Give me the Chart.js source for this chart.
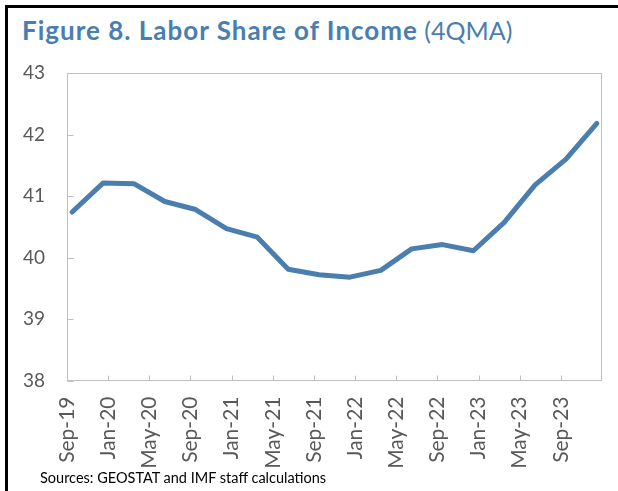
<!DOCTYPE html>
<html>
<head>
<meta charset="utf-8">
<script src="https://cdn.jsdelivr.net/npm/chart.js@4"></script>
<style>
  html, body { margin: 0; padding: 0; background: #fff; }
  body { width: 618px; height: 491px; position: relative; overflow: hidden; font-family: Lato, sans-serif; }
  #frame { position: absolute; left: 5px; top: 5px; right: -10px; bottom: -10px; border-left: 3px solid #000; border-top: 3px solid #000; }
  #title { position: absolute; left: 22px; top: 18px; font-size: 25px; line-height: 25px; color: #4a7eae; white-space: nowrap; }
  #title b { font-weight: 700; font-size: 26px; letter-spacing: 1px; }
  #source { position: absolute; left: 40px; top: 470px; font-size: 14.5px; line-height: 15px; color: #000; white-space: nowrap; }
  canvas { position: absolute; left: 0; top: 0; }
</style>
</head>
<body>
<div id="frame"></div>
<div id="title"><b>Figure 8. Labor Share of Income</b> (4QMA)</div>
<canvas id="chart" width="618" height="491"></canvas>
<div id="source">Sources: GEOSTAT and IMF staff calculations</div>
<script>
// Axis labels, every 4 months starting Sep-19
const tickLabels = ["Sep-19", "Jan-20", "May-20", "Sep-20", "Jan-21", "May-21", "Sep-21",
  "Jan-22", "May-22", "Sep-22", "Jan-23", "May-23", "Sep-23"];

// Quarterly observations, Sep-19 .. Dec-23
const quarters = ["Sep-19", "Dec-19", "Mar-20", "Jun-20", "Sep-20", "Dec-20", "Mar-21", "Jun-21", "Sep-21",
  "Dec-21", "Mar-22", "Jun-22", "Sep-22", "Dec-22", "Mar-23", "Jun-23", "Sep-23", "Dec-23"];
const laborShare = [40.74, 41.21, 41.20, 40.91, 40.78, 40.47, 40.33, 39.81, 39.72,
  39.68, 39.79, 40.14, 40.21, 40.11, 40.57, 41.18, 41.60, 42.18];

// months since Sep-19, mid-month
const points = quarters.map((q, i) => ({ x: i * 3 + 0.5, y: laborShare[i] }));

const GREY = "#bfbfbf";
const LABEL = "#595959";

// plot box + inside tick marks
const boxTicks = {
  id: "boxTicks",
  beforeDatasetsDraw(chart) {
    const { ctx, chartArea: a, scales: { x, y } } = chart;
    const l = Math.round(a.left) + 0.5, r = Math.round(a.right) - 0.5;
    const t = Math.round(a.top) + 0.5, b = Math.round(a.bottom) - 0.5;
    ctx.save();
    ctx.strokeStyle = GREY;
    ctx.lineWidth = 1;
    ctx.strokeRect(l, t, r - l, b - t);
    ctx.beginPath();
    x.ticks.forEach(tk => {
      if (tk.label === "") return;
      const px = Math.round(x.getPixelForValue(tk.value)) + 0.5;
      ctx.moveTo(px, b);
      ctx.lineTo(px, b - 5);
    });
    y.ticks.forEach(tk => {
      const py = Math.round(y.getPixelForValue(tk.value)) + 0.5;
      ctx.moveTo(l, py);
      ctx.lineTo(l + 6, py);
    });
    ctx.stroke();
    ctx.restore();
  }
};

new Chart(document.getElementById("chart"), {
  type: "line",
  data: {
    datasets: [{
      label: "Labor share of income",
      data: points,
      borderColor: "#4a7eae",
      borderWidth: 5,
      borderCapStyle: "round",
      borderJoinStyle: "round",
      pointRadius: 0,
      tension: 0
    }]
  },
  options: {
    responsive: false,
    animation: false,
    devicePixelRatio: 1,
    layout: { padding: { left: 0, right: 16, top: 73, bottom: 0 } },
    plugins: { legend: { display: false }, tooltip: { enabled: false } },
    scales: {
      x: {
        type: "linear",
        min: 0,
        max: 52,
        grid: { display: false, drawTicks: false },
        border: { display: false },
        afterFit: s => { s.height = 110.5; s.paddingLeft = 0; s.paddingRight = 0; },
        ticks: {
          stepSize: 4,
          autoSkip: false,
          maxRotation: 90,
          minRotation: 90,
          padding: 16,
          color: LABEL,
          font: { family: "Lato", size: 21 },
          callback: v => tickLabels[v / 4] ?? ""
        }
      },
      y: {
        min: 38,
        max: 43,
        grid: { display: false, drawTicks: false },
        border: { display: false },
        afterFit: s => { s.width = 67; s.paddingTop = 0; s.paddingBottom = 0; },
        ticks: {
          stepSize: 1,
          padding: 22,
          color: LABEL,
          font: { family: "Lato", size: 19 }
        }
      }
    }
  },
  plugins: [boxTicks]
});
</script>
</body>
</html>
